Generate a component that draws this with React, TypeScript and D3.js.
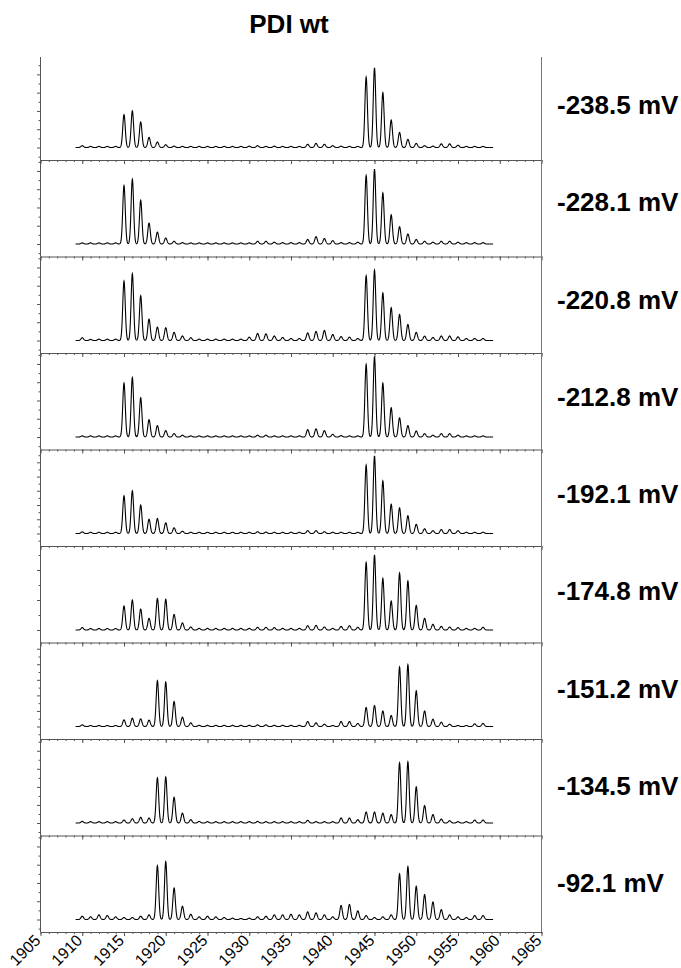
import * as d3 from "d3";
import { useEffect, useRef } from "react";

// peak positions (m/z), one peak per entry
const masses = [
  1910, 1911, 1912, 1913, 1914, 1915, 1916, 1917, 1918, 1919,
  1920, 1921, 1922, 1923, 1924, 1925, 1926, 1927, 1928, 1929,
  1930, 1931, 1932, 1933, 1934, 1935, 1936, 1937, 1938, 1939,
  1940, 1941, 1942, 1943, 1944, 1945, 1946, 1947, 1948, 1949,
  1950, 1951, 1952, 1953, 1954, 1955, 1956, 1957, 1958,
];

const voltages = [
  "-238.5 mV", "-228.1 mV", "-220.8 mV", "-212.8 mV", "-192.1 mV",
  "-174.8 mV", "-151.2 mV", "-134.5 mV", "-92.1 mV",
];

// top of the y range of each panel (each panel is scaled on its own)
const yMaxes = [0.99, 0.92, 0.92, 0.92, 1.18, 0.56, 1.08, 0.93, 0.92];

const xTicks = [1905, 1910, 1915, 1920, 1925, 1930, 1935, 1940, 1945, 1950, 1955, 1960, 1965];

// peak heights, same order as masses
const h2385 = [
  .02, .012, .012, .012, .012, .36, .40, .28, .11, .06,
  .03, .015, .012, .012, .012, .012, .012, .012, .012, .012,
  .015, .02, .012, .015, .012, .012, .012, .035, .045, .035,
  .02, .015, .012, .012, .77, .87, .60, .30, .165, .09,
  .045, .02, .015, .04, .04, .025, .012, .012, .012,
];
const h2281 = [
  .012, .012, .012, .012, .012, .64, .71, .48, .23, .13,
  .066, .03, .015, .012, .012, .012, .012, .012, .012, .012,
  .012, .03, .03, .02, .015, .015, .015, .05, .08, .06,
  .037, .015, .015, .02, .75, .82, .56, .32, .19, .11,
  .05, .03, .02, .03, .03, .02, .015, .015, .015,
];
const h2208 = [
  .03, .012, .015, .015, .015, .65, .73, .49, .235, .147,
  .14, .09, .05, .03, .015, .015, .015, .015, .015, .015,
  .037, .077, .073, .05, .033, .022, .022, .084, .10, .11,
  .066, .044, .037, .022, .71, .77, .52, .36, .286, .176,
  .09, .048, .033, .05, .05, .04, .022, .022, .022,
];
const h2128 = [
  .012, .012, .012, .012, .012, .59, .65, .43, .19, .125,
  .07, .037, .02, .012, .012, .012, .012, .012, .012, .012,
  .012, .02, .02, .012, .012, .012, .012, .08, .09, .07,
  .03, .015, .012, .012, .795, .88, .59, .32, .21, .125,
  .066, .037, .02, .037, .037, .02, .012, .012, .012,
];
const h1921 = [
  .023, .018, .018, .018, .018, .53, .60, .40, .20, .21,
  .15, .08, .033, .018, .018, .018, .018, .018, .018, .018,
  .018, .025, .02, .018, .018, .018, .018, .04, .04, .025,
  .018, .018, .018, .018, .96, 1.09, .74, .41, .36, .25,
  .13, .066, .04, .056, .056, .04, .018, .018, .018,
];
const h1748 = [
  .016, .01, .01, .01, .01, .16, .20, .14, .078, .21,
  .205, .104, .047, .02, .011, .011, .011, .011, .011, .011,
  .011, .018, .018, .016, .011, .011, .011, .029, .031, .02,
  .011, .024, .029, .018, .45, .50, .344, .193, .38, .327,
  .164, .078, .038, .024, .02, .016, .011, .011, .018,
];
const h1512 = [
  .021, .013, .013, .013, .013, .086, .107, .099, .082, .588,
  .571, .322, .12, .047, .015, .015, .015, .015, .015, .015,
  .015, .021, .021, .015, .015, .015, .015, .064, .047, .03,
  .013, .064, .064, .039, .245, .27, .20, .142, .764, .794,
  .459, .20, .094, .056, .03, .013, .013, .034, .039,
];
const h1345 = [
  .018, .015, .015, .015, .015, .033, .048, .063, .055, .50,
  .51, .285, .11, .037, .018, .015, .015, .015, .015, .015,
  .015, .018, .015, .015, .015, .015, .015, .03, .015, .015,
  .015, .055, .055, .037, .122, .122, .11, .093, .667, .678,
  .40, .193, .093, .044, .026, .015, .015, .033, .033,
];
const h921 = [
  .036, .029, .051, .044, .029, .022, .022, .036, .051, .59,
  .633, .345, .145, .058, .029, .036, .029, .022, .015, .011,
  .015, .029, .036, .051, .051, .058, .051, .084, .073, .051,
  .029, .153, .164, .095, .044, .022, .029, .051, .50, .58,
  .364, .273, .193, .109, .051, .029, .022, .044, .044,
];

const spectra = [h2385, h2281, h2208, h2128, h1921, h1748, h1512, h1345, h921];

const W = 681, H = 968;
const FONT = "'Liberation Sans', Arial, Helvetica, sans-serif";

const App = () => {
  const ref = useRef<SVGSVGElement>(null);

  useEffect(() => {
    const svg = d3.select(ref.current);
    svg.selectAll("*").remove();

    const x = d3.scaleLinear().domain([1905, 1965]).range([40.5, 541.5]);
    const firstTop = 57;
    const panelH = 96.5;
    const baseGap = 12.5;
    const sigma = 0.15;
    const frame = "#555";

    svg.append("text")
      .attr("x", 289).attr("y", 33)
      .attr("text-anchor", "middle")
      .style("font-family", FONT).style("font-weight", "bold").style("font-size", "26px")
      .text("PDI wt");

    // sample points along m/z for the profile curve
    const xs = d3.range(1909.2, 1959.21, 0.02);

    spectra.forEach((heights, i) => {
      const bottom = 160 + i * panelH;
      const top = i === 0 ? firstTop : bottom - panelH;
      const yMax = yMaxes[i];
      const yMin = -yMax * baseGap / (bottom - baseGap - top);
      const y = d3.scaleLinear().domain([yMin, yMax]).range([bottom, top]);

      const g = svg.append("g");

      const profile = xs.map((m) => {
        let v = 0;
        masses.forEach((c, k) => {
          const d = m - c;
          if (Math.abs(d) < 1.2) v += heights[k] * Math.exp(-(d * d) / (2 * sigma * sigma));
        });
        return [m, v] as [number, number];
      });

      const line = d3.line<[number, number]>()
        .x((d) => x(d[0]))
        .y((d) => y(d[1]));

      g.append("path")
        .datum(profile)
        .attr("fill", "none")
        .attr("stroke", "#000")
        .attr("stroke-width", 1.1)
        .attr("d", line);

      // y axis: minor every 0.1, major every 0.2
      const yt = d3.range(Math.ceil(yMin * 10 - 1e-6), Math.floor(yMax * 10 + 1e-6) + 1).map((k) => k / 10);
      g.append("g")
        .attr("transform", "translate(40.5,0)")
        .call(d3.axisLeft(y).tickValues(yt.filter((v) => Math.round(v * 10) % 2 !== 0)).tickSize(2).tickFormat(() => ""))
        .call((a) => a.select(".domain").remove())
        .call((a) => a.selectAll("line").attr("stroke", frame));
      g.append("g")
        .attr("transform", "translate(40.5,0)")
        .call(d3.axisLeft(y).tickValues(yt.filter((v) => Math.round(v * 10) % 2 === 0)).tickSize(3.5).tickFormat(() => ""))
        .call((a) => a.select(".domain").remove())
        .call((a) => a.selectAll("line").attr("stroke", frame));

      g.append("line")
        .attr("x1", 40.5).attr("x2", 40.5).attr("y1", top).attr("y2", bottom)
        .attr("stroke", frame);
      g.append("line")
        .attr("x1", 541.5).attr("x2", 541.5).attr("y1", top).attr("y2", bottom)
        .attr("stroke", "#777");

      // x axis at the bottom of every panel
      const last = i === spectra.length - 1;
      g.append("g")
        .attr("transform", `translate(0,${bottom})`)
        .call(d3.axisBottom(x).tickValues(d3.range(1905, 1966)).tickSize(2).tickSizeOuter(0).tickFormat(() => ""))
        .call((a) => a.select(".domain").attr("stroke", frame))
        .call((a) => a.selectAll("line").attr("stroke", frame));
      const major = g.append("g")
        .attr("transform", `translate(0,${bottom})`)
        .call(d3.axisBottom(x).tickValues(xTicks).tickSize(4).tickSizeOuter(0).tickFormat((d) => (last ? String(d) : "")))
        .call((a) => a.select(".domain").remove())
        .call((a) => a.selectAll("line").attr("stroke", frame));
      if (last) {
        major.selectAll("text")
          .attr("x", 0).attr("y", 0).attr("dy", "0.75em")
          .attr("transform", "translate(-8,1) rotate(-45)")
          .style("text-anchor", "end")
          .style("font-family", FONT).style("font-size", "16px")
          .attr("fill", "#000");
      }

      svg.append("text")
        .attr("x", 557).attr("y", 105 + i * 97.25 + 9)
        .style("font-family", FONT).style("font-weight", "bold").style("font-size", "26px")
        .text(voltages[i]);
    });
  }, []);

  return (
    <svg
      ref={ref}
      width={W}
      height={H}
      style={{ position: "absolute", left: 0, top: 0, background: "#fff" }}
    />
  );
};

export default App;
